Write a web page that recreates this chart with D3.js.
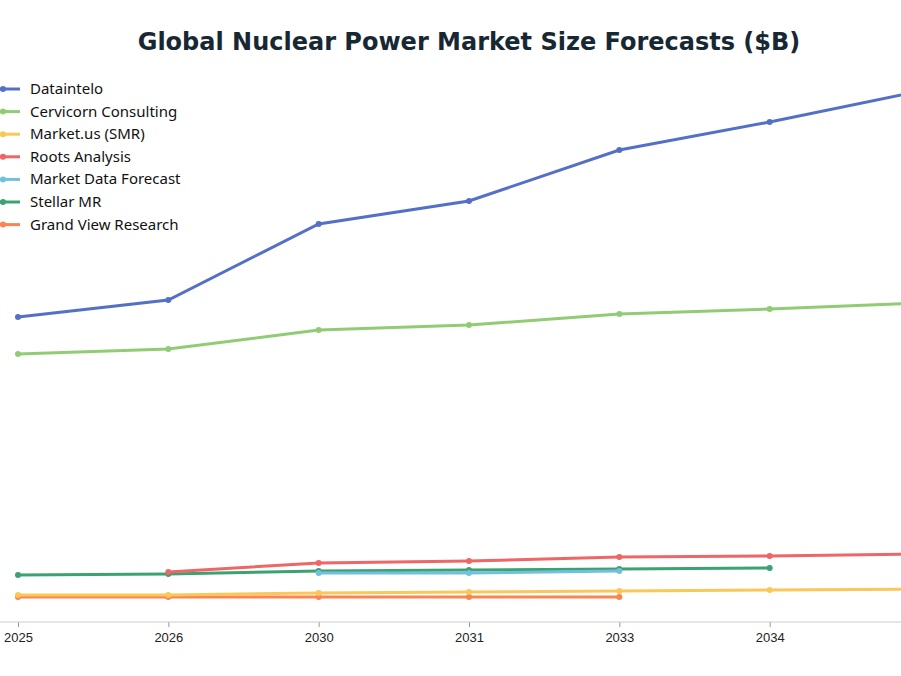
<!DOCTYPE html>
<html><head><meta charset="utf-8">
<script src="https://cdn.jsdelivr.net/npm/d3@7"></script>
<style>body{margin:0;background:#fff;font-family:"DejaVu Sans",sans-serif;}</style>
</head><body><svg id="chart" width="901" height="676"></svg>
<script>
var years = ["2025","2026","2030","2031","2033","2034","2035"];
var names = ["Dataintelo","Cervicorn Consulting","Market.us (SMR)","Roots Analysis","Market Data Forecast","Stellar MR","Grand View Research"];
var colors = ["#5470c6","#91cc75","#fac858","#ee6666","#73c0de","#3ba272","#fc8452"];
var dataintelo = [122,128.8,159.2,168.4,188.8,200,212.4];
var cervicorn = [107.2,109.2,116.8,118.8,123.2,125.2,127.6];
var marketus = [10.8,10.8,11.6,12,12.4,12.8,13.2];
var roots = [null,20,23.6,24.4,26,26.4,27.2];
var mdf = [null,null,19.6,19.6,20.4,null,null];
var stellar = [18.8,19.2,20.4,20.8,21.2,21.6,null];
var grandview = [10,10,10,10,10,null,null];
var series = [dataintelo,cervicorn,marketus,roots,mdf,stellar,grandview];

var svg = d3.select("#chart");
var x = d3.scalePoint().domain(years).range([18,920]);
var y = d3.scaleLinear().domain([0,220]).range([622,72]);

svg.append("text").attr("x",469).attr("y",50).attr("text-anchor","middle")
  .attr("font-size",24).attr("font-weight","bold").attr("fill","#172833")
  .text("Global Nuclear Power Market Size Forecasts ($B)");

var axis = svg.append("g").attr("transform","translate(0,622)")
  .call(d3.axisBottom(x).tickValues(years.slice(0,6)).tickSize(5).tickPadding(6));
axis.select(".domain").remove();
axis.append("line").attr("x1",0).attr("x2",901).attr("stroke","#ccc");
axis.selectAll(".tick line").attr("stroke","#999");
axis.selectAll("text").attr("font-size",13).attr("fill","#222");

var line = d3.line().defined(function(d){return d!=null;})
  .x(function(d,i){return x(years[i]);}).y(function(d){return y(d);});

// draw bottom series first so Dataintelo is on top
for (var s=series.length-1; s>=0; s--) {
  var vals = series[s];
  var g = svg.append("g");
  g.append("path").datum(vals).attr("d",line).attr("fill","none")
    .attr("stroke",colors[s]).attr("stroke-width",3);
  g.selectAll("circle").data(vals.map(function(v,i){return {v:v,i:i};}).filter(function(d){return d.v!=null;}))
    .enter().append("circle")
    .attr("cx",function(d){return x(years[d.i]);}).attr("cy",function(d){return y(d.v);})
    .attr("r",3).attr("fill",colors[s]);
}

var legend = svg.append("g");
names.forEach(function(n,i){
  var yy = 89 + i*22.6;
  legend.append("line").attr("x1",0).attr("x2",20).attr("y1",yy).attr("y2",yy)
    .attr("stroke",colors[i]).attr("stroke-width",3);
  legend.append("circle").attr("cx",3).attr("cy",yy).attr("r",3).attr("fill",colors[i]);
  legend.append("text").attr("x",30).attr("y",yy+5).attr("font-size",15).attr("fill","#111")
    .attr("font-family","Noto Sans, sans-serif").text(n);
});
</script></body></html>
